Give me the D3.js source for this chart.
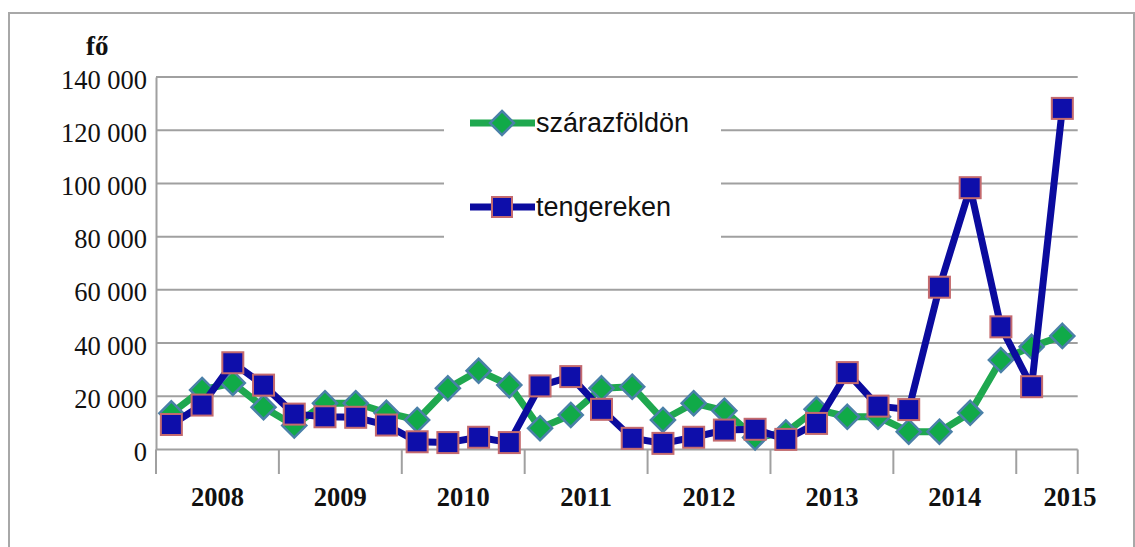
<!DOCTYPE html>
<html>
<head>
<meta charset="utf-8">
<script src="https://cdn.jsdelivr.net/npm/d3@7"></script>
<style>
  body { margin: 0; background: #fff; }
  svg { display: block; }
</style>
</head>
<body>
<script>
// quarterly data, 2008 Q1 .. 2015 Q2
var years = ['2008', '2009', '2010', '2011', '2012', '2013', '2014', '2015']
var quartersPerYear = [4, 4, 4, 4, 4, 4, 4, 2]
var seriesNames = ['szárazföldön', 'tengereken']

var szarazfoldon = [
  13600, 22400, 25000, 15900,
  9000, 17400, 17400, 13800,
  11100, 23000, 29600, 24200,
  8000, 13000, 23000, 23600,
  11100, 17400, 14600, 4500,
  6400, 15100, 12300, 12300,
  6700, 6700, 13800, 33600,
  38600, 42700
]
var tengereken = [
  9400, 16700, 32600, 24200,
  13300, 12300, 12100, 9200,
  2900, 2600, 4600, 2600,
  23900, 27400, 15100, 4200,
  2300, 4600, 7300, 7600,
  3800, 9800, 28900, 16300,
  15000, 61000, 98400, 46100,
  23600, 128200
]
var yTicks = [0, 20000, 40000, 60000, 80000, 100000, 120000, 140000]

var W = 1135, H = 547
var plotL = 156, plotR = 1077.7, plotT = 77, plotB = 449.5

var categories = []
years.forEach(function (yr, i) {
  for (var q = 1; q <= quartersPerYear[i]; q++) categories.push(yr + ' Q' + q)
})

var x = d3.scaleBand().domain(categories).range([plotL, plotR]).padding(0)
var y = d3.scaleLinear().domain([0, 140000]).range([plotB, plotT])
var fmt = d3.formatLocale({decimal: ',', thousands: '\u00a0', grouping: [3], currency: ['', '']}).format(',')

var svg = d3.select('body').append('svg')
  .attr('width', W)
  .attr('height', H)

// outer frame
svg.append('path')
  .attr('d', 'M9,' + (H + 2) + 'V13H1134V' + (H + 2))
  .attr('fill', 'none')
  .attr('stroke', '#a8a8a8')
  .attr('stroke-width', 2)

var serif = 'Liberation Serif, Times New Roman, serif'

// grid
svg.append('g').selectAll('line')
  .data(yTicks)
  .enter().append('line')
  .attr('x1', plotL).attr('x2', plotR)
  .attr('y1', d => y(d)).attr('y2', d => y(d))
  .attr('stroke', '#a0a0a0')
  .attr('stroke-width', 2)

// y axis
var yAxis = svg.append('g')
  .attr('transform', `translate(${plotL},0)`)
  .call(d3.axisLeft(y).tickValues(yTicks).tickSize(0).tickPadding(9).tickFormat(d => fmt(d)))
yAxis.select('.domain').attr('stroke', '#a0a0a0').attr('stroke-width', 2)
yAxis.selectAll('text')
  .attr('font-family', serif)
  .attr('font-size', 26.5)
  .attr('fill', '#111')
  .attr('dy', '0.42em')

svg.append('text')
  .attr('x', 86).attr('y', 55)
  .attr('font-family', serif)
  .attr('font-weight', 'bold')
  .attr('font-size', 27)
  .attr('fill', '#111')
  .text('fő')

// x axis: year groups
var groups = []
var idx = 0
years.forEach(function (yr, i) {
  var first = categories[idx], last = categories[idx + quartersPerYear[i] - 1]
  groups.push({year: yr, x0: x(first), x1: x(last) + x.bandwidth(), n: quartersPerYear[i]})
  idx += quartersPerYear[i]
})
var tickX = [plotL].concat(groups.map(g => g.x1))
svg.append('g').selectAll('line')
  .data(tickX)
  .enter().append('line')
  .attr('x1', d => d).attr('x2', d => d)
  .attr('y1', plotB).attr('y2', 474)
  .attr('stroke', '#a0a0a0')
  .attr('stroke-width', 2)

svg.append('g').selectAll('text')
  .data(groups)
  .enter().append('text')
  .attr('x', d => (d.x0 + d.x1) / 2 + (d.n < 4 ? x.bandwidth() * 0.75 : 0))
  .attr('y', 506)
  .attr('text-anchor', 'middle')
  .attr('font-family', serif)
  .attr('font-weight', 'bold')
  .attr('font-size', 26.5)
  .attr('fill', '#111')
  .text(d => d.year)

var cx = (d, i) => x(categories[i]) + x.bandwidth() / 2
var line = d3.line().x(cx).y(d => y(d))

var green = '#1fa84f', blue = '#0b0b9e'

// szárazföldön
svg.append('path')
  .datum(szarazfoldon)
  .attr('d', line)
  .attr('fill', 'none')
  .attr('stroke', green)
  .attr('stroke-width', 7)
  .attr('stroke-linejoin', 'round')
svg.append('g').selectAll('path')
  .data(szarazfoldon)
  .enter().append('path')
  .attr('d', 'M0,-12L12,0L0,12L-12,0Z')
  .attr('transform', (d, i) => `translate(${cx(d, i)},${y(d)})`)
  .attr('fill', '#10aa48')
  .attr('stroke', '#4a80a8')
  .attr('stroke-width', 2.5)

// tengereken
svg.append('path')
  .datum(tengereken)
  .attr('d', line)
  .attr('fill', 'none')
  .attr('stroke', blue)
  .attr('stroke-width', 7)
  .attr('stroke-linejoin', 'round')
svg.append('g').selectAll('rect')
  .data(tengereken)
  .enter().append('rect')
  .attr('x', (d, i) => cx(d, i) - 10.5)
  .attr('y', d => y(d) - 10.5)
  .attr('width', 21).attr('height', 21)
  .attr('fill', '#0e0eaa')
  .attr('stroke', '#c46a6e')
  .attr('stroke-width', 2)

// legend
var lg = svg.append('g')
lg.append('rect')
  .attr('x', 444).attr('y', 96).attr('width', 277).attr('height', 176)
  .attr('fill', '#fff')
var legendY = [123, 207]
seriesNames.forEach(function (name, i) {
  var g = lg.append('g').attr('transform', `translate(0,${legendY[i]})`)
  g.append('line')
    .attr('x1', 470).attr('x2', 535)
    .attr('stroke', i === 0 ? green : blue)
    .attr('stroke-width', 7)
  if (i === 0) {
    g.append('path')
      .attr('d', 'M502,-12L514,0L502,12L490,0Z')
      .attr('fill', '#10aa48')
      .attr('stroke', '#4a80a8')
      .attr('stroke-width', 2.5)
  } else {
    g.append('rect')
      .attr('x', 492).attr('y', -10).attr('width', 20).attr('height', 20)
      .attr('fill', '#0e0eaa')
      .attr('stroke', '#c46a6e')
      .attr('stroke-width', 2)
  }
  g.append('text')
    .attr('x', 536).attr('y', 9)
    .attr('font-family', 'Liberation Sans, Arial, sans-serif')
    .attr('font-size', 27)
    .attr('fill', '#111')
    .text(name)
})
</script>
</body>
</html>
